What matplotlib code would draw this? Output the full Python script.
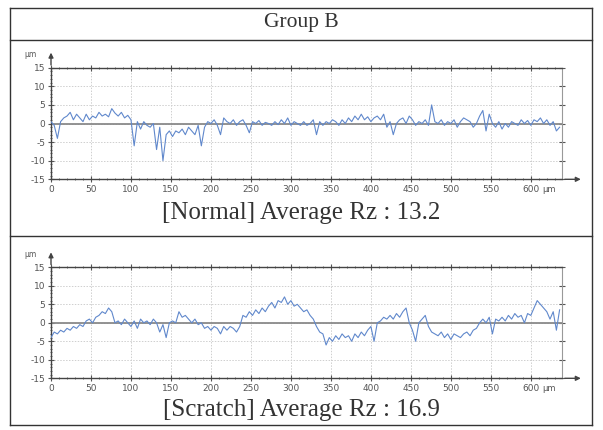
import numpy as np
import matplotlib
matplotlib.use("Agg")
from matplotlib import pyplot as plt
from matplotlib.lines import Line2D
from matplotlib.ticker import MultipleLocator

plt.rcParams["axes.unicode_minus"] = False

# profile positions in um (one sample every 4 um)
pos = np.arange(0, 640, 4)

normal_y = [0.5, -0.5, -4.0, 0.5, 1.5, 2.0, 3.0, 1.0, 2.5, 1.5,
            0.5, 2.5, 1.0, 2.0, 1.5, 3.0, 2.0, 2.5, 1.8, 4.0,
            2.8, 2.0, 3.0, 1.5, 2.2, 1.0, -6.0, 0.5, -1.5, 0.5,
            -0.5, -1.0, 0.0, -7.0, -1.0, -10.0, -3.0, -2.0, -3.5, -2.0,
            -2.5, -1.5, -3.0, -1.0, -2.0, -3.0, -0.5, -6.0, -1.0, 0.5,
            0.0, 1.0, -0.5, -3.0, 1.5, 0.5, 0.0, 1.0, -0.5, 0.5,
            1.0, -0.5, -2.5, 0.5, 0.0, 0.8, -0.5, 0.3, 0.0, -0.5,
            0.5, -0.3, 1.0, 0.0, 1.5, -0.5, 0.5, 0.0, -0.5, 0.5,
            -0.5, 0.0, 1.0, -3.0, 0.5, -0.5, 0.5, 0.0, 1.0, 0.5,
            -0.5, 1.0, 0.0, 1.5, 0.5, 2.0, 1.0, 2.5, 1.0, 1.8,
            0.5, 1.5, 2.0, 1.0, 2.5, -1.0, 0.5, -3.0, 0.0, 1.0,
            1.5, 0.0, 2.0, 1.0, -0.5, 0.5, 0.0, 1.0, -0.5, 5.0,
            0.5, 0.0, 1.0, -0.5, 0.5, 0.0, 1.0, -1.0, 0.5, 1.5,
            1.0, 0.5, -1.0, 0.0, 2.0, 3.5, -2.0, 2.5, 0.0, -1.0,
            0.5, -1.5, 0.0, -1.0, 0.5, 0.0, -0.5, 1.0, 0.0, 0.8,
            -0.5, 1.0, 0.5, 1.5, 0.0, 1.0, -0.5, 0.5, -2.0, -1.0]

scratch_y = [-4.0, -2.5, -3.0, -2.0, -2.5, -1.5, -2.0, -1.0, -1.5, -0.5,
             -1.0, 0.5, 1.0, 0.0, 1.5, 2.0, 3.0, 2.5, 4.0, 3.0,
             0.0, 0.5, -0.5, 1.0, 0.0, -1.0, 0.5, -1.5, 1.0, 0.0,
             0.5, -0.5, 1.0, 0.0, -2.5, -0.5, -4.0, 0.0, 0.5, 0.0,
             3.0, 1.5, 2.0, 1.0, 0.0, 1.0, -0.5, 0.0, -1.5, -1.0,
             -2.0, -1.0, -1.5, -3.0, -1.0, -2.0, -1.0, -1.5, -2.5, -1.0,
             2.0, 1.5, 3.0, 2.0, 3.5, 2.5, 4.0, 3.0, 4.5, 5.5,
             4.0, 6.0, 5.5, 7.0, 5.0, 6.0, 4.5, 5.0, 4.0, 3.0,
             3.5, 2.0, 1.0, -1.0, -2.5, -3.0, -6.0, -4.0, -5.0, -3.5,
             -4.5, -3.0, -4.0, -3.5, -5.0, -3.0, -4.0, -2.5, -3.5, -2.0,
             -1.0, -5.0, 0.0, 0.5, 1.5, 1.0, 2.0, 1.0, 2.5, 1.5,
             3.0, 4.0, 0.0, -2.0, -5.0, 0.0, 1.0, 2.0, -1.0, -2.5,
             -3.0, -3.5, -2.5, -4.0, -3.0, -4.5, -3.0, -3.5, -4.0, -3.0,
             -2.5, -3.5, -2.0, -1.5, 0.0, 1.0, 0.0, 1.5, -3.0, 1.0,
             0.5, 1.5, 0.5, 2.0, 1.0, 2.5, 1.5, 2.0, 0.0, 2.5,
             2.0, 4.0, 6.0, 5.0, 4.0, 3.0, 1.0, 3.0, -2.0, 3.5]

x_ticks = [0, 50, 100, 150, 200, 250, 300, 350, 400, 450, 500, 550, 600]
y_ticks = [-15, -10, -5, 0, 5, 10, 15]
captions = ["[Normal] Average Rz : 13.2", "[Scratch] Average Rz : 16.9"]

W, H = 603, 430
fig = plt.figure(figsize=(6.03, 4.30), dpi=100)


def fx(px):
    return px / W


def fy(py):
    return 1 - py / H


# table frame
frame_kw = dict(color="#333333", lw=1.0, transform=fig.transFigure)
for y in [8, 40, 236, 425]:
    fig.add_artist(Line2D([fx(10), fx(592)], [fy(y), fy(y)], **frame_kw))
for x in [10, 592]:
    fig.add_artist(Line2D([fx(x), fx(x)], [fy(8), fy(425)], **frame_kw))

fig.text(0.5, fy(23), "Group B", ha="center", va="center",
         family="Liberation Serif", fontsize=15.5, color="#333333")


def profile(ax, y_vals):
    ax.set_xlim(0, 639)
    ax.set_ylim(-15, 15)
    ax.plot(pos, y_vals, color="#6088cc", lw=0.8, zorder=3)
    ax.axhline(0, color="#8a8a8a", lw=1.3, zorder=2)
    ax.set_xticks(x_ticks)
    ax.set_yticks(y_ticks)
    ax.xaxis.set_minor_locator(MultipleLocator(10))
    ax.yaxis.set_minor_locator(MultipleLocator(1))
    ax.grid(True, which="major", color="#cfcfcf", ls=(0, (1.5, 1.5)), lw=0.7)
    ax.tick_params(which="both", direction="inout", top=True, right=True,
                   colors="#555555", labelsize=6.5, pad=2)
    ax.tick_params(which="major", length=4, width=0.8)
    ax.tick_params(which="minor", length=2, width=0.6)
    ax.tick_params(axis="y", which="minor", right=False)
    for side in ["top", "bottom", "left"]:
        ax.spines[side].set_color("#444444")
        ax.spines[side].set_linewidth(1.0)
    ax.spines["right"].set_color("#999999")
    ax.spines["right"].set_linewidth(0.8)
    # axis arrows
    ax.annotate("", xy=(0, 19.8), xytext=(0, 15), annotation_clip=False,
                arrowprops=dict(arrowstyle="-|>", color="#444444", lw=1.0,
                                mutation_scale=7))
    ax.annotate("", xy=(666, -15), xytext=(639, -15), annotation_clip=False,
                arrowprops=dict(arrowstyle="-|>", color="#444444", lw=1.0,
                                mutation_scale=7))
    ax.text(-0.041, 1.115, "µm", transform=ax.transAxes, fontsize=5.5,
            color="#555555", ha="center", va="center")
    ax.annotate("µm", xy=(600, -15), xytext=(8, -7.6), textcoords="offset points",
                fontsize=6, color="#555555", ha="left", va="center",
                annotation_clip=False)


ax1 = fig.add_axes([fx(51), fy(179.3), fx(511), 111.6 / H])
profile(ax1, normal_y)
ax2 = fig.add_axes([fx(51), fy(378.3), fx(511), 111.0 / H])
profile(ax2, scratch_y)

fig.text(0.5, fy(213), captions[0], ha="center", va="center",
         family="Liberation Serif", fontsize=18, color="#333333")
fig.text(0.5, fy(410), captions[1], ha="center", va="center",
         family="Liberation Serif", fontsize=18, color="#333333")

plt.savefig("out.png", dpi=100)
